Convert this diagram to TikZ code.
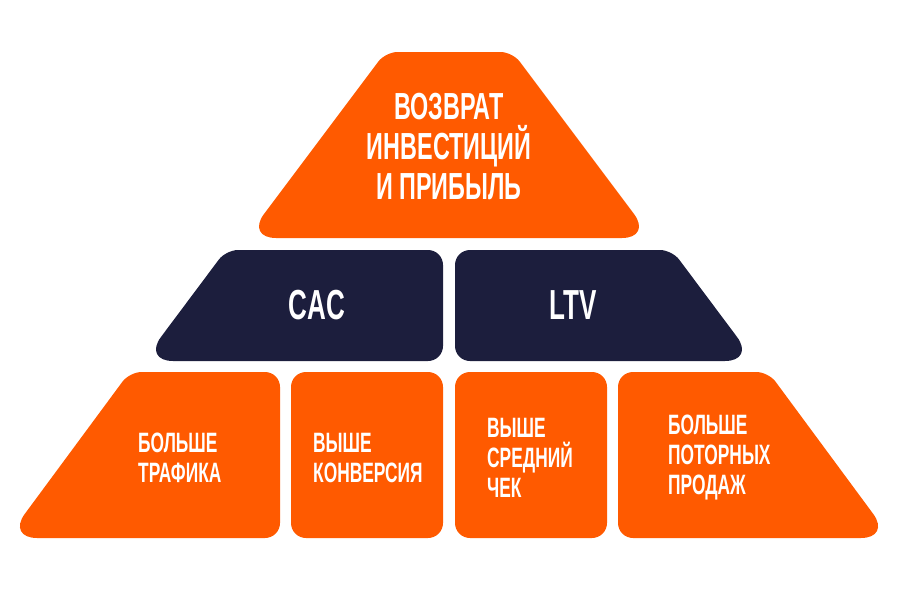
\documentclass[tikz,border=0pt]{standalone}
\usepackage{fontspec}
\usetikzlibrary{positioning}
\newfontfamily\pyrfont[FakeStretch=0.62]{Liberation Sans}
\definecolor{pyrorange}{HTML}{FF5A00}
\definecolor{pyrnavy}{HTML}{1C1E3D}

\begin{document}
\begin{tikzpicture}[x=1pt, y=-1pt,
  orangetier/.style={fill=pyrorange},
  navytier/.style={fill=pyrnavy},
  sharp/.style={rounded corners=30pt},
  soft/.style={rounded corners=15pt},
  blunt/.style={rounded corners=12pt},
  lbl/.style={text=white, inner sep=0pt, font=\pyrfont\bfseries},
  toplbl/.style={lbl, align=center, font=\pyrfont\bfseries\fontsize{37.7}{40}\selectfont},
  midlbl/.style={lbl, font=\pyrfont\bfseries\fontsize{42}{48}\selectfont},
  lowlbl/.style={lbl, anchor=west, align=left, font=\pyrfont\bfseries\fontsize{28}{30}\selectfont}
]
\useasboundingbox (0,0) rectangle (900,600);

% Top tier
\fill[orangetier] (449,238) [sharp] -- (246,238) [blunt] -- (385.5,52)
  [blunt] -- (512.5,52) [sharp] -- (652,238) [sharp] -- cycle;

% Middle tier
\fill[navytier] (300,361) [sharp] -- (143,361) [blunt] -- (226,250)
  [soft] -- (443,250) [soft] -- (443,361) [soft] -- cycle;
\fill[navytier] (600,361) [soft] -- (455,361) [soft] -- (455,250)
  [blunt] -- (672,250) [sharp] -- (755,361) [sharp] -- cycle;

% Bottom tier
\fill[orangetier] (150,538) [sharp] -- (7,538) [blunt] -- (129.6,372)
  [soft] -- (280,372) [soft] -- (280,538) [soft] -- cycle;
\fill[orangetier, soft] (291,372) rectangle (443,538);
\fill[orangetier, soft] (455,372) rectangle (607,538);
\fill[orangetier] (750,538) [soft] -- (618,538) [soft] -- (618,372)
  [blunt] -- (768.4,372) [sharp] -- (891,538) [sharp] -- cycle;

% Labels
\node[toplbl] (roi) at (449,146) {ВОЗВРАТ\\ИНВЕСТИЦИЙ\\И ПРИБЫЛЬ};
\node[midlbl] (cac) at (317,305.5) {CAC};
\node[midlbl] (ltv) at (573,305.5) {LTV};
\node[lowlbl] (traffic) at (138,458) {БОЛЬШЕ\\ТРАФИКА};
\node[lowlbl] (conv) at (313,458) {ВЫШЕ\\КОНВЕРСИЯ};
\node[lowlbl] (check) at (487,458) {ВЫШЕ\\СРЕДНИЙ\\ЧЕК};
\node[lowlbl] (repeat) at (668,458) {БОЛЬШЕ\\ПОТОРНЫХ\\ПРОДАЖ};

\end{tikzpicture}
\end{document}
